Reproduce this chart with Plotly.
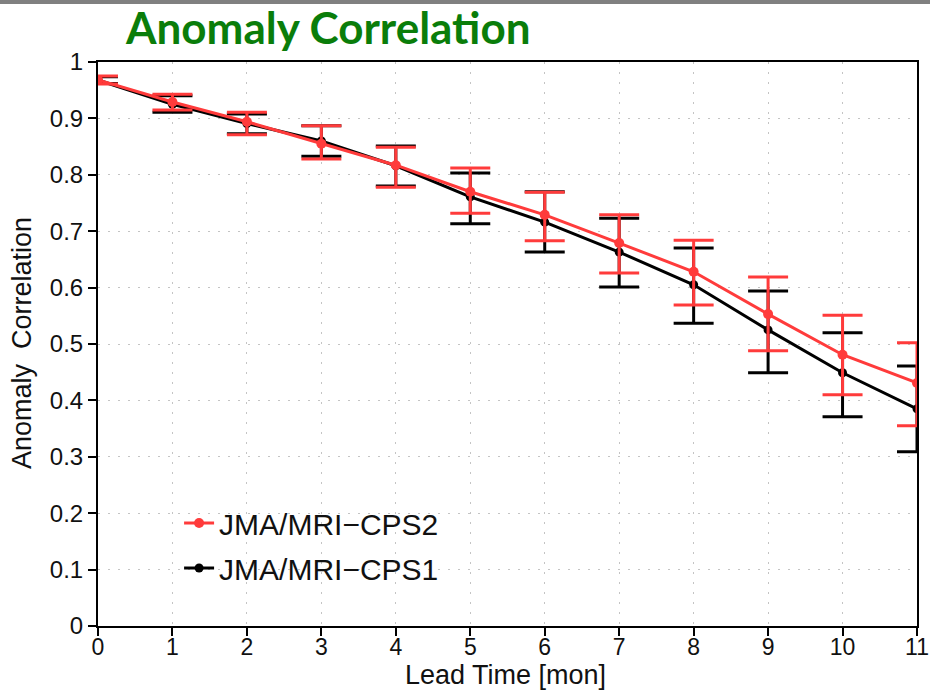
import plotly.graph_objects as go

lead = [0, 1, 2, 3, 4, 5, 6, 7, 8, 9, 10, 11]

cps2 = [0.968, 0.929, 0.894, 0.855, 0.817, 0.770, 0.729, 0.679, 0.628, 0.553, 0.481, 0.431]
cps2_hi = [0.975, 0.943, 0.911, 0.887, 0.849, 0.812, 0.769, 0.729, 0.684, 0.619, 0.551, 0.502]
cps2_lo = [0.961, 0.915, 0.871, 0.828, 0.778, 0.732, 0.683, 0.626, 0.569, 0.488, 0.410, 0.355]

cps1 = [0.968, 0.925, 0.891, 0.860, 0.816, 0.761, 0.716, 0.663, 0.605, 0.525, 0.449, 0.385]
cps1_hi = [0.974, 0.940, 0.908, 0.887, 0.851, 0.803, 0.770, 0.723, 0.670, 0.594, 0.520, 0.461]
cps1_lo = [0.962, 0.911, 0.873, 0.833, 0.780, 0.713, 0.663, 0.601, 0.537, 0.449, 0.371, 0.309]

y_ticks = [0, 0.1, 0.2, 0.3, 0.4, 0.5, 0.6, 0.7, 0.8, 0.9, 1]
y_tick_text = ["0", "0.1", "0.2", "0.3", "0.4", "0.5", "0.6", "0.7", "0.8", "0.9", "1"]

RED = "#ff3b3b"
BLACK = "#000000"
FONT = "Liberation Sans, Arial, sans-serif"


def err(v, hi, lo):
    return [h - a for a, h in zip(v, hi)], [a - l for a, l in zip(v, lo)]


e1p, e1m = err(cps1, cps1_hi, cps1_lo)
e2p, e2m = err(cps2, cps2_hi, cps2_lo)

fig = go.Figure()
fig.add_trace(go.Scatter(
    x=lead, y=cps1, mode="lines+markers", name="JMA/MRI\u2212CPS1",
    legendgroup="b", legendrank=2,
    line=dict(color=BLACK, width=3), marker=dict(color=BLACK, size=9),
    error_y=dict(type="data", symmetric=False, array=e1p, arrayminus=e1m,
                 color=BLACK, thickness=3, width=20),
))
fig.add_trace(go.Scatter(
    x=lead, y=cps2, mode="lines+markers", name="JMA/MRI\u2212CPS2",
    legendgroup="a", legendrank=1,
    line=dict(color=RED, width=3), marker=dict(color=RED, size=10),
    error_y=dict(type="data", symmetric=False, array=e2p, arrayminus=e2m,
                 color=RED, thickness=3, width=20),
))

axis_font = dict(family=FONT, size=23, color="#111111")
grid = dict(showgrid=True, gridcolor="#c4c4c4", griddash="2px,8px", gridwidth=1)

fig.update_layout(
    width=930, height=690,
    margin=dict(l=98, r=13, t=62, b=64, autoexpand=False),
    paper_bgcolor="white", plot_bgcolor="white",
    title=dict(text="<b>Anomaly Correlation</b>", x=126 / 930, xanchor="left",
               xref="container", y=1 - 29 / 690, yanchor="middle", yref="container",
               font=dict(family="Lato, Open Sans, sans-serif", size=44, color="#0a7d0a")),
    showlegend=True,
    legend=dict(x=0.099, y=0.2287, xanchor="left", yanchor="top",
                bgcolor="rgba(0,0,0,0)", traceorder="grouped", tracegroupgap=3,
                font=dict(family=FONT, size=30, color="#111111")),
    xaxis=dict(range=[0, 11], tickmode="array", tickvals=lead, automargin=False,
               ticks="outside", ticklen=8, tickwidth=2, tickcolor="black",
               ticklabelstandoff=-9,
               showline=True, linecolor="black", linewidth=2, mirror=True,
               zeroline=False, tickfont=axis_font, **grid),
    yaxis=dict(range=[0, 1], tickmode="array", tickvals=y_ticks, ticktext=y_tick_text,
               automargin=False,
               ticks="outside", ticklen=8, tickwidth=2, tickcolor="black",
               showline=True, linecolor="black", linewidth=2, mirror=True,
               zeroline=False, tickfont=dict(family=FONT, size=24, color="#111111"), **grid),
    annotations=[
        dict(text="Lead Time [mon]", xref="paper", yref="paper",
             x=(505 - 98) / 819, y=(626 - 675) / 564, xanchor="center", yanchor="middle",
             showarrow=False, font=dict(family=FONT, size=27, color="#111111")),
        dict(text="Anomaly  Correlation", xref="paper", yref="paper", textangle=-90,
             x=(22 - 98) / 819, y=(626 - 343) / 564, xanchor="center", yanchor="middle",
             showarrow=False, font=dict(family=FONT, size=27, color="#111111")),
    ],
    shapes=[dict(type="rect", xref="paper", yref="paper", x0=-0.2, x1=1.2,
                 y0=1 + 58 / 564, y1=1 + 66 / 564, fillcolor="#808080", line=dict(width=0),
                 layer="above")],
)

fig.write_html("out.html", config={"displayModeBar": False},
               post_script="document.body.style.margin='0px';")
